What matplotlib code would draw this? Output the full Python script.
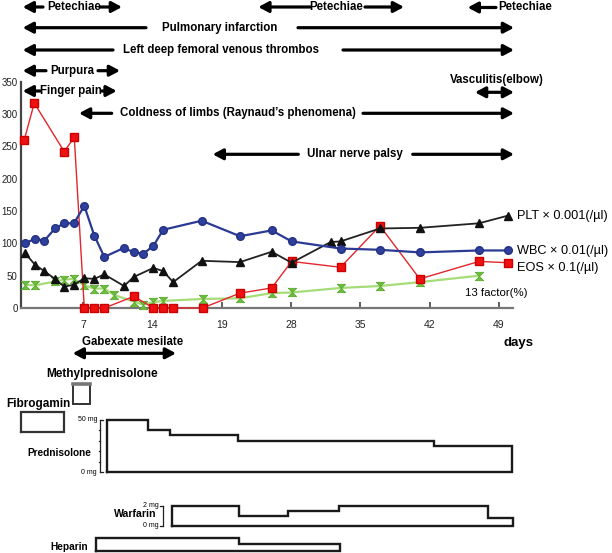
import matplotlib
matplotlib.use("Agg")
import matplotlib.pyplot as plt
import numpy as np

# ---------------- data ----------------
wbc_days = [1.14, 2.15, 3.09, 4.17, 5.1, 6.09, 7.13, 8.14, 9.15, 11.14, 12.12, 13.09, 14.1, 15.1,
            18.98, 22.85, 26.05, 28.06, 33.0, 36.98, 41.0, 46.98, 49.94]
wbc_vals = [100, 107, 104, 123, 131, 131, 158, 112, 79, 93, 86, 84, 96, 121,
            135, 111, 120, 103, 92, 90, 86, 89, 89]

plt_days = [1.14, 2.15, 3.09, 4.17, 5.1, 6.09, 7.13, 8.14, 9.15, 11.14, 12.12, 14.1, 15.1, 16.1,
            18.98, 22.85, 26.05, 28.06, 32.0, 33.0, 36.98, 41.0, 46.98, 49.94]
plt_vals = [85, 67, 57, 45, 33, 36, 46, 45, 52, 34, 48, 62, 57, 40,
            73, 71, 87, 70, 102, 103, 123, 124, 131, 143]

eos_days = [1.07, 2.08, 5.1, 6.12, 7.13, 8.14, 9.15, 12.15, 14.1, 15.1, 16.1, 19.07,
            22.85, 26.05, 28.06, 33.0, 36.98, 41.0, 46.98, 49.94]
eos_vals = [260, 317, 242, 264, 0, 0, 0, 18, 0, 0, 0, 0,
            23, 31, 72, 63, 127, 45, 72, 70]

f13_days = [1.14, 2.15, 4.17, 5.1, 6.09, 7.13, 8.14, 9.15, 10.16, 12.15, 13.09, 14.1, 15.1,
            19.07, 22.85, 26.05, 28.06, 33.0, 36.98, 41.0, 46.98]
f13_vals = [36, 35, 41, 44, 45, 35, 30, 30, 20, 10, 5, 9, 11,
            14, 15, 23, 24, 31, 34, 40, 50]

tick_pos = [7, 14, 21, 28, 35, 42, 49]
tick_labels = ["7", "14", "19", "28", "35", "42", "49"]
y_ticks = [0, 50, 100, 150, 200, 250, 300, 350]

# treatments (days)
fibrogamin_days = [0.7, 5.1]
methylpred_days = [6.0, 7.7]
pred_change_days = [9.4, 13.6, 15.8, 22.6, 42.4]
pred_end_day = 50.3
pred_doses = [50, 40, 35, 30, 25]
warf_change_days = [15.95, 22.7, 27.7, 32.8, 47.9]
warf_end_day = 50.4
warf_doses = [2, 1, 1.5, 2, 0.8]
hep_change_days = [8.3, 22.7]
hep_end_day = 32.9
hep_levels = [1.0, 0.5]

# ---------------- layout helpers ----------------
W, H = 612, 553
fig = plt.figure(figsize=(W / 100, H / 100), dpi=100)
BOLD = ['Liberation Sans Narrow', 'Liberation Sans', 'DejaVu Sans']
REG = ['Liberation Sans', 'DejaVu Sans']

AX_L, AX_R, AX_T, AX_B = 21, 513, 81.7, 308
PX_PER_DAY = 9.905
DAY7_PX = 83


def px2day(px):
    return 7 + (px - DAY7_PX) / PX_PER_DAY


def axes_px(left, right, top, bottom):
    return fig.add_axes([left / W, 1 - bottom / H, (right - left) / W, (bottom - top) / H])


# ---------------- main chart ----------------
ax = axes_px(AX_L, AX_R, AX_T, AX_B)
ax.set_xlim(px2day(AX_L), px2day(AX_R))
ax.set_ylim(0, 350)
ax.patch.set_alpha(0)
for s in ['top', 'right']:
    ax.spines[s].set_visible(False)
ax.spines['left'].set_color('#444444')
ax.spines['left'].set_linewidth(1.6)
ax.spines['bottom'].set_color('#777777')
ax.spines['bottom'].set_linewidth(1.6)
ax.set_yticks(y_ticks)
ax.set_yticklabels([str(v) for v in y_ticks], fontsize=7, family=REG, color='#222222')
ax.tick_params(axis='y', length=0, pad=2.5)
ax.set_xticks(tick_pos)
ax.set_xticklabels(tick_labels, fontsize=7.5, family=REG, color='#222222')
ax.tick_params(axis='x', direction='in', length=4, width=1.2, color='#444444', pad=9)

# hourglass marker for 13 factor
hourglass = [(-1, 1), (1, 1), (-1, -1), (1, -1), (-1, 1)]

ax.plot(f13_days, f13_vals, color='#a6dc78', lw=1.6, marker=hourglass, ms=6,
        mfc='#6cc03c', mec='#5aa82e', mew=0.6, clip_on=False, zorder=3)
ax.plot(eos_days, eos_vals, color='#e3262b', lw=1.0, marker='s', ms=6,
        mfc='#ee1111', mec='#cc0000', clip_on=False, zorder=4)
ax.plot(plt_days, plt_vals, color='#222222', lw=1.3, marker='^', ms=5.5,
        mfc='#111111', mec='#111111', clip_on=False, zorder=5)
ax.plot(wbc_days, wbc_vals, color='#2b3a94', lw=1.6, marker='o', ms=5.5,
        mfc='#2f3f9e', mec='#243280', clip_on=False, zorder=6)

# ---------------- treatment axes ----------------
xl = ax.get_xlim()


def dose_axes(top, bottom, ymax):
    a = axes_px(AX_L, AX_R, top, bottom)
    a.set_xlim(xl)
    a.set_ylim(0, ymax)
    a.axis('off')
    return a


def step_outline(a, change_days, end_day, levels, **kw):
    edges = list(change_days) + [end_day]
    xs, ys = [edges[0]], [0]
    for i, lv in enumerate(levels):
        xs += [edges[i], edges[i + 1]]
        ys += [lv, lv]
    xs += [edges[-1], edges[0]]
    ys += [0, 0]
    a.plot(xs, ys, clip_on=False, solid_joinstyle='miter', **kw)


line_kw = dict(color='#1a1a1a', lw=1.7)

a_fib = dose_axes(412.3, 431.7, 1)
step_outline(a_fib, [fibrogamin_days[0]], fibrogamin_days[1], [1], color='#333333', lw=1.6)

a_mp = dose_axes(384.3, 404.3, 1)
step_outline(a_mp, [methylpred_days[0]], methylpred_days[1], [1], color='#333333', lw=1.4)
a_mp.plot(methylpred_days, [1, 1], color='#777777', lw=2.6, clip_on=False)

a_pred = dose_axes(419.5, 472, 50)
step_outline(a_pred, pred_change_days, pred_end_day, pred_doses, **line_kw)
xb = px2day(100)
a_pred.plot([xb, xb], [0, 50], color='#222222', lw=0.9, clip_on=False)
a_pred.plot([xb, xb + 0.35], [50, 50], color='#222222', lw=0.9, clip_on=False)
a_pred.plot([xb, xb + 0.35], [0, 0], color='#222222', lw=0.9, clip_on=False)
for t in [10, 20, 30, 40]:
    a_pred.plot([xb - 0.12, xb], [t, t], color='#222222', lw=0.9, clip_on=False)
a_pred.text(xb - 0.3, 50, "50 mg", ha='right', va='center', fontsize=5, family=BOLD)
a_pred.text(xb - 0.3, 0, "0 mg", ha='right', va='center', fontsize=5, family=BOLD)

a_warf = dose_axes(505.7, 525.7, 2)
step_outline(a_warf, warf_change_days, warf_end_day, warf_doses, **line_kw)
xw = px2day(163.3)
a_warf.plot([xw, xw], [0, 2], color='#222222', lw=0.9, clip_on=False)
a_warf.plot([xw - 0.35, xw], [2, 2], color='#222222', lw=0.9, clip_on=False)
a_warf.plot([xw - 0.35, xw], [0, 0], color='#222222', lw=0.9, clip_on=False)
a_warf.text(xw - 0.45, 2, "2 mg", ha='right', va='center', fontsize=5, family=BOLD)
a_warf.text(xw - 0.45, 0, "0 mg", ha='right', va='center', fontsize=5, family=BOLD)

a_hep = dose_axes(537.7, 551, 1)
step_outline(a_hep, hep_change_days, hep_end_day, hep_levels, **line_kw)

# ---------------- overlay (annotations, pixel layout) ----------------
ov = fig.add_axes([0, 0, 1, 1])
ov.set_xlim(0, W)
ov.set_ylim(H, 0)
ov.axis('off')
ov.patch.set_alpha(0)


def arrow(x_from, x_to, y, style='-|>'):
    ov.annotate('', xy=(x_to, y), xytext=(x_from, y),
                arrowprops=dict(arrowstyle=f'{style},head_length=0.6,head_width=0.32',
                                lw=2.3, color='black', shrinkA=0, shrinkB=0))


def btext(x, y, s, size=8.3, ha='center'):
    ov.text(x, y, s, ha=ha, va='center', fontsize=size, fontweight='bold', family=BOLD)


# symptom bars: (text, text_center_px, y_px, left arrow (from,to), right arrow (from,to))
symptoms = [
    ("Petechiae", 74, 7, (43, 22.7), (100, 122)),
    ("Petechiae", 336, 7, (310, 258.3), (365, 404)),
    ("Petechiae", 525, 7.5, (496, 467.7), None),
    ("Pulmonary infarction", 220, 27.7, (146, 22.7), (298, 514)),
    ("Left deep femoral venous thrombos", 221, 50, (113, 22.7), (343, 514)),
    ("Purpura", 72, 70.7, (46, 22.7), (98, 120)),
    ("Finger pain", 70.5, 91, (40, 22.7), (101.7, 116.7)),
    ("Coldness of limbs (Raynaud\u2019s phenomena)", 237.5, 113.3, (111.7, 79), (363, 514)),
    ("Ulnar nerve palsy", 355, 154.3, (298.3, 212.7), (412.7, 514)),
]
for label, cx, y, la, ra in symptoms:
    btext(cx, y, label)
    if la:
        arrow(la[0], la[1], y)
    if ra:
        arrow(ra[0], ra[1], y)

btext(497, 80, "Vasculitis(elbow)")
arrow(475, 514, 92.3, style='<|-|>')

btext(132.5, 341.7, "Gabexate mesilate")
arrow(72.7, 176, 353.3, style='<|-|>')
btext(518, 342.7, "days", size=9.5)
btext(102, 374.3, "Methylprednisolone", size=8.5)
btext(38, 404.3, "Fibrogamin", size=8.5)
btext(59, 453, "Prednisolone", size=7.3)
btext(135, 514.3, "Warfarin", size=7.6)
btext(69.2, 546.7, "Heparin", size=7.3)

# series labels
ov.text(517, 216, "PLT \u00d7 0.001(/\u00b5l)", ha='left', va='center', fontsize=9.2, family=REG)
ov.text(517, 251, "WBC \u00d7 0.01(/\u00b5l)", ha='left', va='center', fontsize=9.2, family=REG)
ov.text(517, 268.3, "EOS \u00d7 0.1(/\u00b5l)", ha='left', va='center', fontsize=9.2, family=REG)
ov.text(465, 292.7, "13 factor(%)", ha='left', va='center', fontsize=8.2, family=REG)

fig.savefig("out.png", dpi=100)
